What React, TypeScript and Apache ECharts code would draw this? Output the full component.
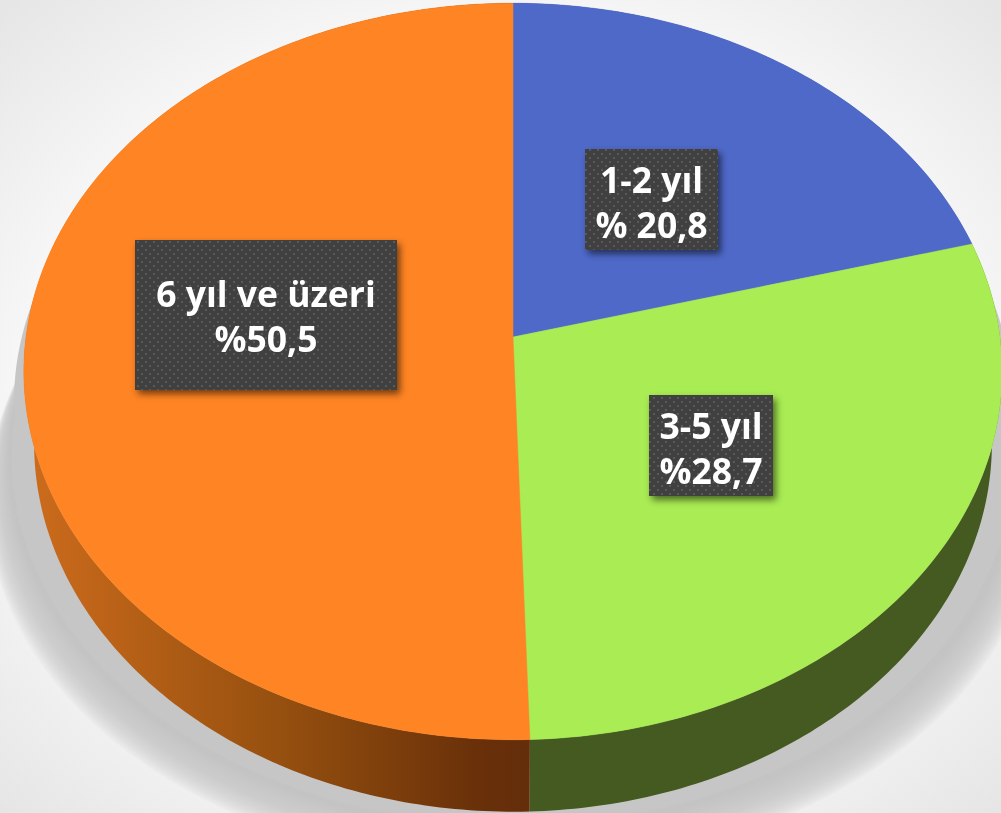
import React, { useEffect, useRef } from "react";
import * as echarts from "echarts";

const categories = ["1-2 yıl", "3-5 yıl", "6 yıl ve üzeri"];
const valueLabels = ["% 20,8", "%28,7", "%50,5"];
const sliceValues = [20.8, 28.7, 50.5];

const topColors = ["#4F69C9", "#A9EC53", "#FF8423"];
const WIDTH = 1001;
const HEIGHT = 813;
const APEX_X = 513;
const APEX_Y = 337;
const RX = 487;
const RY = 365;
const PERSPECTIVE = -0.0936;
const DEPTH = 72;
const BASE_SCALE = 0.979;
const SHADOW_LAYERS = 24;

const labelBoxes = [
  { x: 585, y: 149, width: 133, height: 101, textDy: 2 },
  { x: 649, y: 395, width: 124, height: 101, textDy: 2 },
  { x: 135, y: 240, width: 262, height: 150, textDy: 0 },
];

const total = sliceValues.reduce((a, b) => a + b, 0);
const startShare = (i: number) => sliceValues.slice(0, i).reduce((a, b) => a + b, 0) / total;

function project(theta: number): [number, number] {
  const u = Math.sin(theta);
  const v = -Math.cos(theta);
  const w = 1 + PERSPECTIVE * v;
  return [APEX_X + (RX * u) / w, APEX_Y + (RY * v) / w];
}

function toBase(p: [number, number]): [number, number] {
  return [APEX_X + (p[0] - APEX_X) * BASE_SCALE, p[1] + DEPTH];
}

function arc(from: number, to: number): [number, number][] {
  const steps = Math.max(8, Math.ceil((to - from) * 70));
  const out: [number, number][] = [];
  for (let i = 0; i <= steps; i++) out.push(project(from + ((to - from) * i) / steps));
  return out;
}

function sliceRange(i: number, value: number): [number, number] {
  const a = startShare(i) * Math.PI * 2;
  return [a, a + (value / total) * Math.PI * 2];
}

function shadowOutline(scaleX: number, shiftY: number) {
  return arc(0, Math.PI * 2).map((p) => [APEX_X + (p[0] - APEX_X) * scaleX, p[1] + shiftY]);
}

function makeDotTile() {
  const c = document.createElement("canvas");
  c.width = 8;
  c.height = 8;
  const g = c.getContext("2d")!;
  g.fillStyle = "#404040";
  g.fillRect(0, 0, 8, 8);
  g.fillStyle = "#5A5A5A";
  g.fillRect(1, 1, 2, 2);
  g.fillRect(5, 5, 2, 2);
  return c;
}

export default function App() {
  const ref = useRef<HTMLDivElement>(null);
  useEffect(() => {
    document.body.style.margin = "0";
    const chart = echarts.init(ref.current!, null, { renderer: "svg" });
    const tile = makeDotTile();
    const sideFills: any[] = [
      "#3A4E99",
      "#445A20",
      new echarts.graphic.LinearGradient(
        30, 0, 529, 0,
        [
          { offset: 0, color: "#CC6B1C" },
          { offset: 0.5, color: "#96500F" },
          { offset: 0.9, color: "#693009" },
          { offset: 1, color: "#642E0B" },
        ],
        true
      ),
    ];
    chart.setOption({
      animation: false,
      graphic: [
        {
          type: "rect",
          z: -10,
          shape: { x: 0, y: 0, width: WIDTH, height: HEIGHT },
          style: {
            fill: new echarts.graphic.RadialGradient(
              0.5, 0.5, 0.72,
              [
                { offset: 0, color: "#FFFFFF" },
                { offset: 0.55, color: "#FDFDFD" },
                { offset: 1, color: "#E4E4E4" },
              ]
            ),
          },
          silent: true,
        },
      ],
      series: [
        {
          type: "custom",
          coordinateSystem: "none",
          silent: true,
          z: 1,
          data: [total],
          renderItem: () => {
            const children: any[] = [];
            for (let k = SHADOW_LAYERS; k >= 0; k--) {
              const t = k / SHADOW_LAYERS;
              children.push({
                type: "polygon",
                shape: { points: shadowOutline(1.025 + 0.05 * t, 85 + 45 * t) },
                style: { fill: "rgba(198,198,198,0.1)" },
              });
            }
            children.push({
              type: "polygon",
              shape: { points: shadowOutline(1.025, 85) },
              style: { fill: "#C6C6C6" },
            });
            children.push({
              type: "polygon",
              shape: { points: shadowOutline(1.02, 30) },
              style: { fill: "#C6C6C6" },
            });
            return { type: "group", children };
          },
        },
        {
          type: "custom",
          coordinateSystem: "none",
          silent: true,
          z: 2,
          data: sliceValues,
          renderItem: (params: any, api: any) => {
            const i = params.dataIndex;
            const [a, b] = sliceRange(i, api.value(0));
            const top = arc(a, b);
            const bottom = top.map(toBase).reverse();
            return {
              type: "polygon",
              shape: { points: [...top, ...bottom] },
              style: { fill: sideFills[i] },
            };
          },
        },
        {
          type: "custom",
          coordinateSystem: "none",
          silent: true,
          z: 3,
          data: sliceValues,
          renderItem: (params: any, api: any) => {
            const i = params.dataIndex;
            const [a, b] = sliceRange(i, api.value(0));
            return {
              type: "polygon",
              shape: { points: [[APEX_X, APEX_Y], ...arc(a, b)] },
              style: { fill: topColors[i], stroke: topColors[i], lineWidth: 0.5 },
            };
          },
        },
        {
          type: "custom",
          coordinateSystem: "none",
          silent: true,
          z: 4,
          data: categories,
          renderItem: (params: any) => {
            const i = params.dataIndex;
            const { textDy, ...box } = labelBoxes[i];
            return {
              type: "group",
              children: [
                {
                  type: "rect",
                  shape: { ...box },
                  style: {
                    fill: "#404040",
                    shadowBlur: 7,
                    shadowOffsetX: 3,
                    shadowOffsetY: 4,
                    shadowColor: "rgba(0,0,0,0.55)",
                  },
                },
                {
                  type: "rect",
                  shape: { ...box },
                  style: { fill: { image: tile, repeat: "repeat" } as any },
                },
                {
                  type: "text",
                  x: box.x + box.width / 2,
                  y: box.y + box.height / 2 + textDy,
                  style: {
                    text: categories[i] + "\n" + valueLabels[i],
                    fill: "#FFFFFF",
                    font: "700 35.5px 'Open Sans'",
                    lineHeight: 45,
                    align: "center",
                    verticalAlign: "middle",
                  },
                },
              ],
            };
          },
        },
      ],
    });
    return () => chart.dispose();
  }, []);
  return (
    <div
      ref={ref}
      style={{ position: "fixed", left: 0, top: 0, width: WIDTH, height: HEIGHT }}
    />
  );
}
